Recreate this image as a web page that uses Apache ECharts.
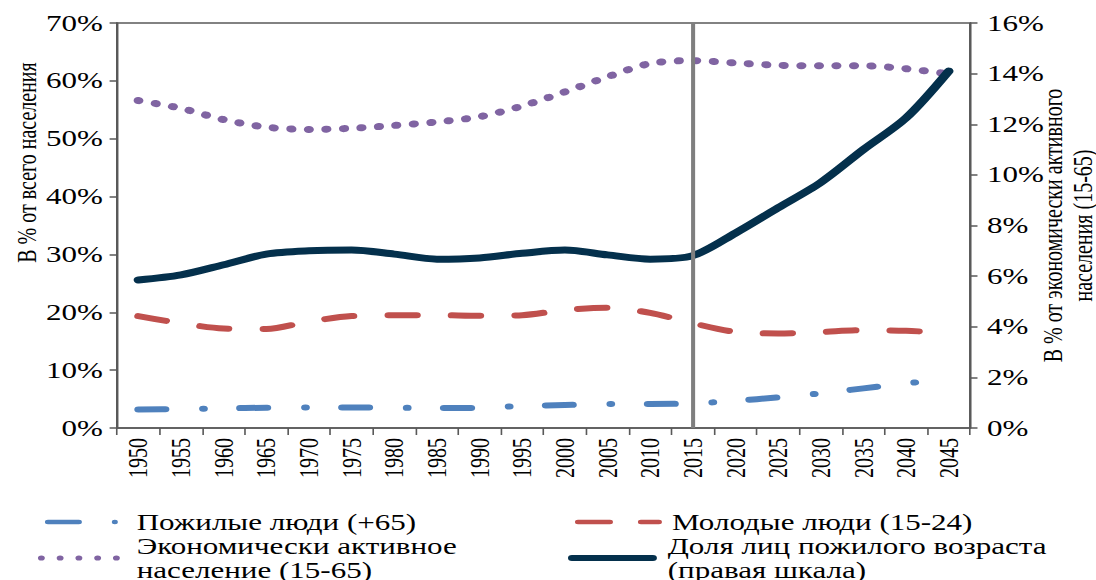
<!DOCTYPE html>
<html>
<head>
<meta charset="utf-8">
<script src="https://cdn.jsdelivr.net/npm/echarts@6/dist/echarts.min.js"></script>
<style>
html,body{margin:0;padding:0;background:#fff;overflow:hidden;width:1096px;height:580px;}
/* the reference picture is horizontally stretched; reproduce that stretch */
#chart{width:812px;height:580px;transform:scaleX(1.349754);transform-origin:0 0;}
</style>
</head>
<body>
<div id="chart"></div>
<script>
// ---- Data ----
var years = ['1950','1955','1960','1965','1970','1975','1980','1985','1990','1995',
             '2000','2005','2010','2015','2020','2025','2030','2035','2040','2045'];
// left scale, % of total population
var elderly65 = [3.2, 3.25, 3.4, 3.5, 3.55, 3.55, 3.5, 3.45, 3.5, 3.8,
                 3.97, 4.15, 4.15, 4.25, 4.7, 5.3, 6.0, 6.85, 7.7, 8.5];
var youth15_24 = [19.35, 18.1, 17.2, 17.1, 18.4, 19.35, 19.5, 19.5, 19.4, 19.5,
                  20.4, 20.8, 19.9, 18.1, 16.6, 16.35, 16.6, 16.9, 16.8, 16.4];
var active15_65 = [56.6, 55.25, 53.3, 52.0, 51.6, 51.8, 52.3, 52.9, 53.8, 55.65,
                   58.1, 60.7, 63.0, 63.5, 63.1, 62.7, 62.6, 62.6, 62.1, 61.2];
// right scale, % of economically active population
var elderlyShare = [5.85, 6.05, 6.45, 6.87, 7.0, 7.03, 6.87, 6.67, 6.72, 6.9,
                    7.03, 6.84, 6.67, 6.81, 7.7, 8.7, 9.7, 11.0, 12.25, 14.1];
var leftTicks = [0, 10, 20, 30, 40, 50, 60, 70];
var rightTicks = [0, 2, 4, 6, 8, 10, 12, 14, 16];
var markYear = '2015';
var names = ['Пожилые люди (+65)', 'Молодые люди (15-24)',
             'Экономически активное\nнаселение (15-65)',
             'Доля лиц пожилого возраста\n(правая шкала)'];
var leftTitle = 'В % от всего населения';
var rightTitle = 'В % от экономически активного\nнаселения (15-65)';

// ---- Styles ----
var FONT = '"Liberation Serif", "Times New Roman", serif';
var AX = '#595959';
var C_BLUE = '#4F81BD', C_RED = '#C0504D', C_PURPLE = '#8064A2', C_NAVY = '#04304C';

var iconBlue = 'path://M3,0H34A3,3 0 0 1 34,6H3A3,3 0 0 1 3,0Z M70,0A3,3 0 1 1 70,6A3,3 0 1 1 70,0Z';
var iconRed = 'path://M3,0H35A3,3 0 0 1 35,6H3A3,3 0 0 1 3,0Z M66,0H84A3,3 0 0 1 84,6H66A3,3 0 0 1 66,0Z';
var iconPurple = 'path://M3.5,0A3.5,3.5 0 1 1 3.5,7A3.5,3.5 0 1 1 3.5,0Z M22.5,0A3.5,3.5 0 1 1 22.5,7A3.5,3.5 0 1 1 22.5,0Z M41.5,0A3.5,3.5 0 1 1 41.5,7A3.5,3.5 0 1 1 41.5,0Z M60.5,0A3.5,3.5 0 1 1 60.5,7A3.5,3.5 0 1 1 60.5,0Z M79.5,0A3.5,3.5 0 1 1 79.5,7A3.5,3.5 0 1 1 79.5,0Z';
var iconNavy = 'path://M4,0H85A4,4 0 0 1 85,8H4A4,4 0 0 1 4,0Z';

function legendItem(name, left, top, w, h, icon, pad) {
  return {
    data: [name], left: left, top: top, padding: 0, orient: 'horizontal',
    itemWidth: w, itemHeight: h, icon: icon, selectedMode: false,
    itemStyle: {borderWidth: 0},
    textStyle: {fontFamily: FONT, fontSize: 23, color: '#000', lineHeight: 24, padding: [0, 0, 0, pad]}
  };
}

var chart = echarts.init(document.getElementById('chart'), null, {renderer: 'svg'});
chart.setOption({
  animation: false,
  backgroundColor: '#fff',
  grid: {left: 86.7, right: 93.3, top: 23, bottom: 152, show: true, borderColor: AX, borderWidth: 1.5,
         containLabel: false, outerBoundsMode: 'none'},
  legend: [
    legendItem(names[0], 33.3, 510, 54, 6, iconBlue, 9),
    legendItem(names[1], 426, 510, 64.4, 6, iconRed, 2.5),
    legendItem(names[2], 28.1, 534, 60.7, 7, iconPurple, 7.5),
    legendItem(names[3], 420.8, 534, 65.9, 8, iconNavy, 3)
  ],
  xAxis: {
    type: 'category', data: years, boundaryGap: true,
    axisLine: {lineStyle: {color: AX, width: 1.5}},
    axisTick: {show: true, interval: 0, length: 7, lineStyle: {color: AX, width: 1.2}},
    axisLabel: {interval: 0, rotate: 90, margin: 10, fontFamily: FONT, fontSize: 20, color: '#000'},
    splitLine: {show: false}
  },
  yAxis: [
    {
      type: 'value', position: 'left', min: leftTicks[0], max: leftTicks[leftTicks.length - 1], interval: 10,
      axisLine: {show: true, lineStyle: {color: AX, width: 1.5}},
      axisTick: {show: true, length: 5.5, lineStyle: {color: AX, width: 1.5}},
      axisLabel: {margin: 10.5, fontFamily: FONT, fontSize: 23, color: '#000', formatter: '{value}%'},
      splitLine: {show: false},
      name: leftTitle, nameLocation: 'middle', nameRotate: 90, nameGap: 57, nameMoveOverlap: false,
      nameTextStyle: {fontFamily: FONT, fontSize: 20, color: '#000', padding: [0, 0, 0, 126]}
    },
    {
      type: 'value', position: 'right', min: rightTicks[0], max: rightTicks[rightTicks.length - 1], interval: 2,
      axisLine: {show: true, lineStyle: {color: AX, width: 1.5}},
      axisTick: {show: true, length: 5.5, lineStyle: {color: AX, width: 1.5}},
      axisLabel: {margin: 12.5, fontFamily: FONT, fontSize: 23, color: '#000', formatter: '{value}%'},
      splitLine: {show: false},
      name: rightTitle, nameLocation: 'middle', nameRotate: 90, nameGap: 50, nameMoveOverlap: false,
      nameTextStyle: {fontFamily: FONT, fontSize: 20, color: '#000', lineHeight: 22.2}
    }
  ],
  series: [
    {
      name: names[0], type: 'line', yAxisIndex: 0, data: elderly65, color: C_BLUE,
      showSymbol: false, symbol: 'none', smooth: 0.3, silent: true,
      lineStyle: {color: C_BLUE, width: 6, cap: 'round', join: 'round', type: [20, 28, 0.5, 27]}
    },
    {
      name: names[1], type: 'line', yAxisIndex: 0, data: youth15_24, color: C_RED,
      showSymbol: false, symbol: 'none', smooth: 0.3, silent: true,
      lineStyle: {color: C_RED, width: 6, cap: 'round', join: 'round', type: [21, 26]}
    },
    {
      name: names[2], type: 'line', yAxisIndex: 0, data: active15_65, color: C_PURPLE,
      showSymbol: false, symbol: 'none', smooth: 0.3, silent: true,
      lineStyle: {color: C_PURPLE, width: 7, cap: 'round', join: 'round', type: [0.5, 12.5]}
    },
    {
      name: names[3], type: 'line', yAxisIndex: 1, data: elderlyShare, color: C_NAVY,
      showSymbol: false, symbol: 'none', smooth: 0.3, silent: true,
      lineStyle: {color: C_NAVY, width: 7, cap: 'round', join: 'round'},
      markLine: {
        silent: true, symbol: ['none', 'none'], label: {show: false},
        lineStyle: {color: '#7F7F7F', width: 3, type: 'solid'},
        emphasis: {disabled: true},
        data: [{xAxis: markYear}]
      }
    }
  ]
});
</script>
</body>
</html>
